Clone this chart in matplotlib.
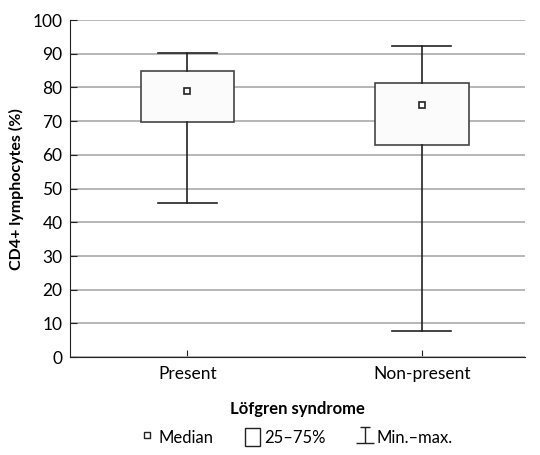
import matplotlib.pyplot as plt
from matplotlib.lines import Line2D
from matplotlib.patches import Patch
from matplotlib.path import Path

plt.rcParams['font.family'] = ['Lato', 'DejaVu Sans']

groups = ["Present", "Non-present"]
medians = [78.9, 74.8]
q1 = [69.8, 63.0]
q3 = [85.0, 81.2]
mins = [45.8, 7.9]
maxs = [90.2, 92.3]

stats = []
for i in range(len(groups)):
    stats.append({'med': medians[i], 'q1': q1[i], 'q3': q3[i],
                  'whislo': mins[i], 'whishi': maxs[i], 'label': groups[i]})

fig = plt.figure(figsize=(5.4, 4.55), dpi=100)
ax = fig.add_axes([0.13, 0.215, 0.842, 0.741])

ax.set_ylim(0, 100)
ax.set_xlim(-0.5, 1.44)
ax.set_yticks(range(0, 101, 10))
ax.yaxis.grid(True, color='#aaaaaa', linewidth=1.2)
ax.set_axisbelow(True)

ax.bxp(stats, positions=[0, 1], widths=0.40, patch_artist=True,
       showfliers=False, showcaps=True,
       boxprops=dict(facecolor='#fbfbfb', edgecolor='#444444', linewidth=1.2),
       whiskerprops=dict(color='#222222', linewidth=1.2),
       capprops=dict(color='#222222', linewidth=1.2),
       medianprops=dict(linewidth=0), capwidths=0.25)
ax.plot([0, 1], medians, linestyle='none', marker='s', markersize=5,
        markerfacecolor='white', markeredgecolor='#222222', markeredgewidth=1.2, zorder=5)

for s in ['top', 'right']:
    ax.spines[s].set_visible(False)
ax.spines['left'].set_color('#222222')
ax.spines['bottom'].set_color('#222222')
ax.tick_params(direction='in', length=5, color='#222222', labelsize=12.5, pad=6)
ax.tick_params(axis='y', pad=5.5)

ax.set_ylabel("CD4+ lymphocytes (%)", fontsize=11.5, fontweight='bold', labelpad=6)
ax.set_xlabel("Löfgren syndrome", fontsize=12, fontweight='bold', labelpad=14)

# min-max icon: short bar on top, longer bar at the bottom
minmax_icon = Path([(-0.3, 0.5), (0.3, 0.5), (0, 0.5), (0, -0.5), (-0.55, -0.5), (0.55, -0.5)],
                   [Path.MOVETO, Path.LINETO, Path.MOVETO, Path.LINETO, Path.MOVETO, Path.LINETO])

handles = [
    Line2D([], [], linestyle='none', marker='s', markersize=4.5,
           markerfacecolor='white', markeredgecolor='#222222', markeredgewidth=1.0),
    Patch(facecolor='white', edgecolor='#222222', linewidth=1.0),
    Line2D([], [], linestyle='none', marker=minmax_icon, markersize=13,
           markerfacecolor='none', markeredgecolor='#222222', markeredgewidth=1.0),
]
fig.legend(handles, ["Median", "25–75%", "Min.–max."], loc='center',
           bbox_to_anchor=(0.548, 1 - 437 / 455), ncol=3, frameon=False,
           fontsize=12, handlelength=0.9, handleheight=1.3,
           handletextpad=0.25, columnspacing=1.9)

fig.savefig("out.png", dpi=100)
